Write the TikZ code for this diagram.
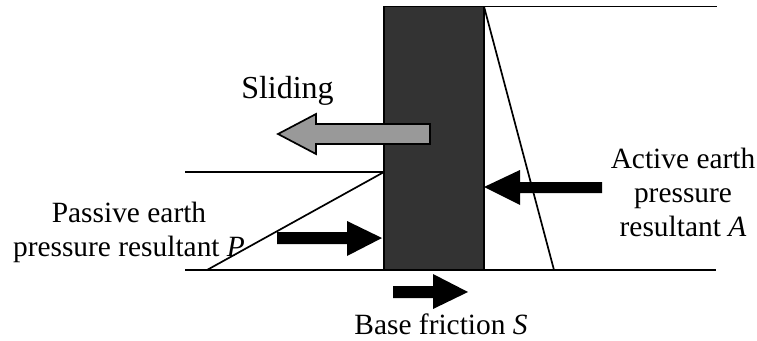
\documentclass[tikz,border=0pt]{standalone}
\usepackage{fontspec}
\setmainfont{Liberation Serif}

\begin{document}
\begin{tikzpicture}[x=1pt, y=-1pt,
    groundline/.style={draw=black, line width=1.7pt},
    textlabel/.style={align=center, font=\fontsize{29.4}{34}\selectfont, inner sep=0pt},
    forcearrow/.style={fill=black, draw=none}]
  \useasboundingbox (0,0) rectangle (757,340);

  % ground lines
  \coordinate (topleft) at (484,6.5);
  \coordinate (topright) at (717,6.5);
  \coordinate (passivetop) at (185,172);
  \coordinate (wallcorner) at (384,172);
  \coordinate (baseleft) at (185,270);
  \coordinate (baseright) at (716,270);
  \coordinate (passivetoe) at (207,270);
  \coordinate (activetoe) at (554,270);
  \draw [groundline] (topleft) -- (topright);
  \draw [groundline] (passivetop) -- (wallcorner);
  \draw [groundline] (baseleft) -- (baseright);

  % wall
  \node (wall) [draw=black, line width=1.7pt, fill=black!80, minimum width=100pt, minimum height=263.5pt, inner sep=0pt] at (434,138.25) {};

  % pressure triangles
  \draw [groundline] (passivetoe) -- (wallcorner);
  \draw [groundline] (topleft) -- (activetoe);

  % sliding arrow
  \draw [fill=black!40, draw=black, line width=1.7pt] (430,124) -- (316,124) -- (316,114) -- (278,134) -- (316,154) -- (316,144) -- (430,144) -- cycle;

  % force arrows
  \fill [forcearrow] (277,232) -- (347,232) -- (347,221) -- (382,238) -- (347,256) -- (347,244) -- (277,244) -- cycle;
  \fill [forcearrow] (602,182) -- (520,182) -- (520,170) -- (484,187) -- (520,205) -- (520,193) -- (602,193) -- cycle;
  \fill [forcearrow] (393,286) -- (433,286) -- (433,274) -- (468,292) -- (433,309) -- (433,298) -- (393,298) -- cycle;

  % labels
  \node (sliding) [textlabel, anchor=base, font=\fontsize{32}{38}\selectfont] at (287.5,98) {Sliding};
  \node (passive) [textlabel] at (129,232) {Passive earth\\pressure resultant \textit{P}};
  \node (active) [textlabel] at (683,192) {Active earth\\pressure\\resultant \textit{A}};
  \node (friction) [textlabel] at (441,324) {Base friction \textit{S}};
\end{tikzpicture}
\end{document}
